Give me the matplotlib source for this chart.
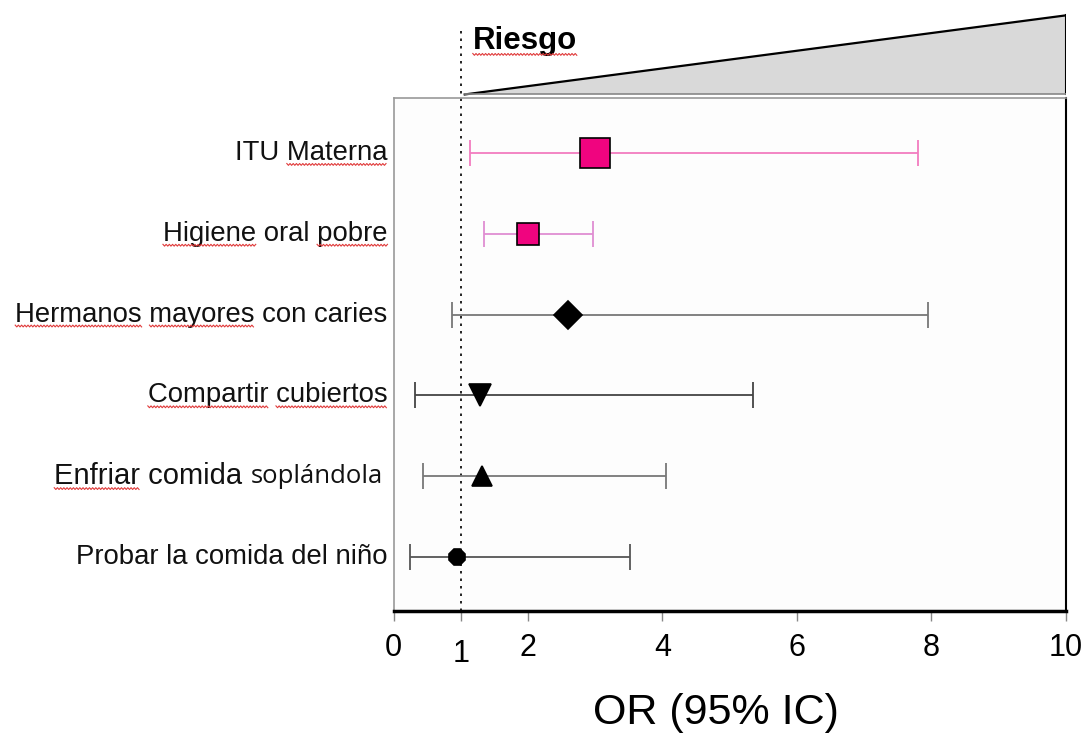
import matplotlib.pyplot as plt
import numpy as np
from matplotlib.patches import Polygon
from matplotlib.lines import Line2D

plt.rcParams['font.family'] = ['Liberation Sans', 'DejaVu Sans']

factors = ["ITU Materna", "Higiene oral pobre", "Hermanos mayores con caries",
           "Compartir cubiertos", "Enfriar comida soplándola", "Probar la comida del niño"]
odds = [3.0, 2.0, 2.6, 1.29, 1.31, 0.94]
ci_low = [1.14, 1.35, 0.87, 0.32, 0.44, 0.24]
ci_high = [7.80, 2.97, 7.95, 5.35, 4.05, 3.52]
xticks = [0, 1, 2, 4, 6, 8, 10]
# words marked by the spell checker in the original figure
marked = [["Materna"], ["Higiene", "pobre"], ["Hermanos", "mayores"],
          ["Compartir", "cubiertos"], ["Enfriar"], []]

markers = ['s', 's', 'D', 'v', '^', '8']
msizes = [21, 16, 14, 16, 15, 12]
fcolors = ['#f0047f', '#f0047f', 'black', 'black', 'black', 'black']
lcolors = ['#f27cbf', '#e08ed2', '#777777', '#444444', '#777777', '#555555']
capcolors = ['#e0489c', '#d0489c', '#555555', '#222222', '#555555', '#333333']

W, H = 1086, 733
fig = plt.figure(figsize=(W / 100, H / 100), dpi=100)
x0, x1 = 393.5, 1065.6
ytop, ybot = 98, 611
ax = fig.add_axes([x0 / W, 1 - ybot / H, (x1 - x0) / W, (ybot - ytop) / H])

ypos = list(range(len(factors), 0, -1))
for i in range(len(factors)):
    y = ypos[i]
    eb = ax.errorbar(odds[i], y, xerr=[[odds[i] - ci_low[i]], [ci_high[i] - odds[i]]],
                     fmt='none', ecolor=lcolors[i], elinewidth=1.3, capsize=9.5, capthick=1.3, zorder=2)
    for c in eb[1]:
        c.set_color(capcolors[i])
    ax.plot(odds[i], y, marker=markers[i], ms=msizes[i], mfc=fcolors[i], mec='black',
            mew=1.2, ls='none', zorder=3)

ax.set_xlim(0, 10)
ax.set_ylim(0.33, 6.68)
ax.axvline(1, ymin=0, ymax=(ybot - 28) / (ybot - ytop), color='black', ls=(0, (1.5, 3)),
           lw=1.2, clip_on=False, zorder=1)

ax.set_yticks([])
ax.set_xticks(xticks)
ax.set_xticklabels([str(t) for t in xticks], fontsize=22)
ax.tick_params(axis='x', length=7, width=1, color='#888888', pad=9)
ax.xaxis.get_major_ticks()[1].set_pad(13)

for s in ['left', 'top']:
    ax.spines[s].set_color('#999999')
    ax.spines[s].set_linewidth(1.2)
ax.spines['right'].set_color('black')
ax.spines['right'].set_linewidth(1.5)
ax.spines['bottom'].set_color('black')
ax.spines['bottom'].set_linewidth(2.5)
ax.set_facecolor('#fdfdfd')

# y labels
label_texts = []
for i, lab in enumerate(factors):
    if lab.startswith("Enfriar"):
        t2 = ax.text(-0.016, ypos[i], "soplándola", transform=ax.get_yaxis_transform(),
                     ha='right', va='center', fontsize=18.5, family=['Open Sans', 'DejaVu Sans'],
                     color='#111111')
        t = ax.annotate("Enfriar comida ", xy=(0, 0.5), xycoords=t2, ha='right', va='center',
                        fontsize=21, color='#111111')
    else:
        t = ax.text(-0.009, ypos[i], lab, transform=ax.get_yaxis_transform(),
                    ha='right', va='center', fontsize=19.8, color='#111111')
    label_texts.append(t)

fig.text(716 / W, 1 - 713 / H, "OR (95% IC)", ha='center', va='center', fontsize=31)

# risk triangle on top
tax = fig.add_axes([x0 / W, 1 - 97 / H, (x1 - x0) / W, 85 / H])
tax.set_xlim(0, 10)
tax.set_ylim(0, 1)
tax.axis('off')
tax.add_patch(Polygon([[1.06, 0.03], [10, 0.03], [10, 0.96]], closed=True,
                      facecolor='#d9d9d9', edgecolor='none'))
tax.plot([1.06, 10], [0.03, 0.96], color='black', lw=1.6)
tax.plot([10, 10], [0.03, 0.96], color='black', lw=1.5)
tax.plot([1.06, 10], [0.03, 0.03], color='#888888', lw=1.2)
riesgo = tax.text(1.18, 0.66, "Riesgo", fontsize=22.5, fontweight='bold', ha='left', va='center')


# red wavy spell-check underlines
def squiggle(xa, xb, yb):
    xs = np.arange(xa, xb + 0.1, 1.6)
    ys = yb + np.where(np.arange(len(xs)) % 2 == 0, 0.9, -0.9)
    fig.add_artist(Line2D(xs / W, ys / H, transform=fig.transFigure, color='#e03a3a', lw=0.8))


fig.canvas.draw()
rend = fig.canvas.get_renderer()


def text_width(s, ref):
    tmp = fig.text(0, 0, s, fontproperties=ref.get_fontproperties())
    w = tmp.get_window_extent(rend).width
    tmp.remove()
    return w


def mark_words(t, words):
    bb = t.get_window_extent(rend)
    s = t.get_text()
    for w in words:
        end = s.index(w) + len(w)
        xe = bb.x0 + text_width(s[:end], t)
        xs_ = xe - text_width(w, t)
        squiggle(xs_, xe, bb.y0 + 1.5)


for t, words in zip(label_texts, marked):
    mark_words(t, words)
mark_words(riesgo, ["Riesgo"])

fig.savefig("out.png", dpi=100, facecolor='white')
